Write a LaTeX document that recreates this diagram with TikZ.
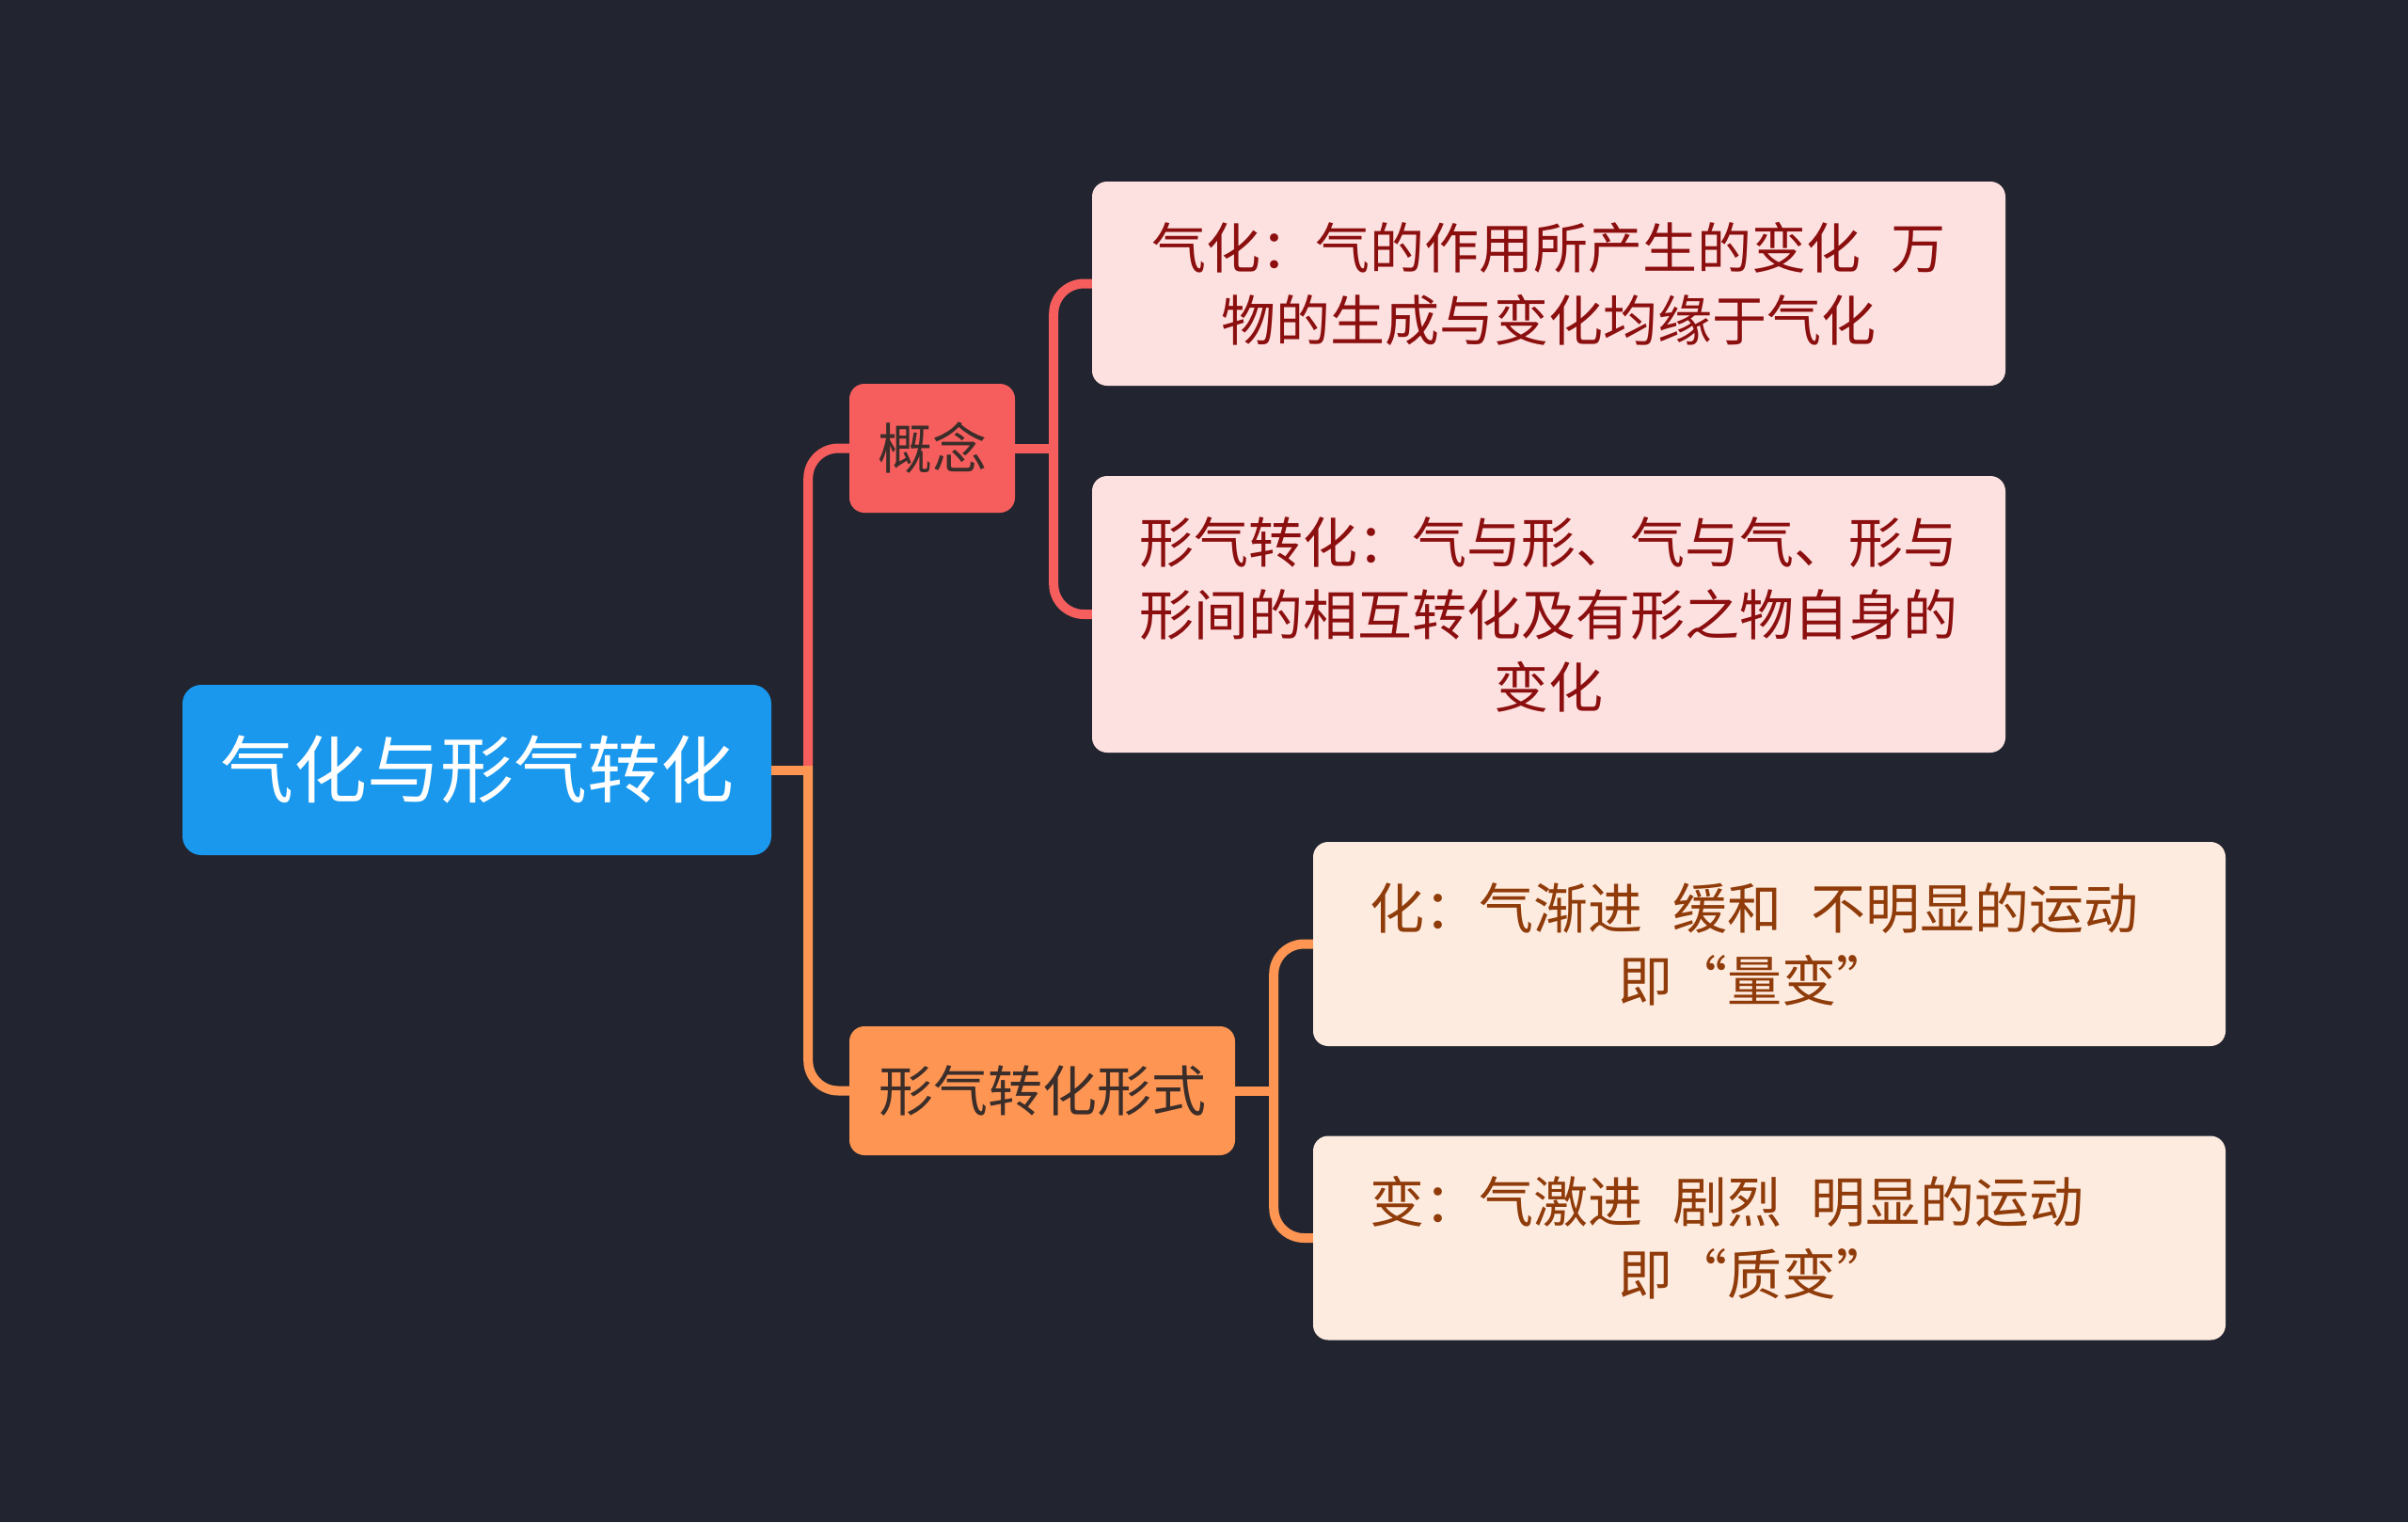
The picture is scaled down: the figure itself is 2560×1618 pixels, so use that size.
\documentclass[tikz,border=0pt]{standalone}
\usepackage{fontspec}
\setmainfont{Noto Sans CJK SC}
\definecolor{bgc}{HTML}{22252F}
\definecolor{rootc}{HTML}{1A98EE}
\definecolor{concc}{HTML}{F65E5E}
\definecolor{formc}{HTML}{FE9552}
\definecolor{pinkc}{HTML}{FDE0E0}
\definecolor{peachc}{HTML}{FEEBDF}
\definecolor{redtxt}{HTML}{8C0F0F}
\definecolor{browntxt}{HTML}{8F3B0A}
\definecolor{darktxt}{HTML}{3B2E2A}
\begin{document}
\begin{tikzpicture}[x=1pt,y=-1pt,
  box/.style={rectangle, rounded corners=16pt, inner sep=0pt, align=center},
  rootbox/.style={box, fill=rootc, rounded corners=20pt, minimum width=626pt, minimum height=181pt, text=white, font=\fontsize{78}{90}\selectfont},
  midbox/.style={box, minimum height=137pt, text=darktxt, font=\fontsize{58}{77}\selectfont},
  leafred/.style={box, fill=pinkc, minimum width=971pt, text=redtxt, font=\fontsize{58}{77}\selectfont},
  leafor/.style={box, fill=peachc, minimum width=970pt, minimum height=217pt},
  ortext/.style={align=center, inner sep=0pt, text=browntxt, font=\fontsize{58}{77}\selectfont},
  redline/.style={draw=concc, line width=10pt, rounded corners=32pt},
  orline/.style={draw=formc, line width=10pt, rounded corners=32pt}]
\fill[bgc] (0,0) rectangle (2560,1618);
\useasboundingbox (0,0) rectangle (2560,1618);

\node[rootbox] (root) at (507,818.5) {气化与形气转化};
\node[midbox, fill=concc, minimum width=176pt] (conc) at (991,476.5) {概念};
\node[midbox, fill=formc, minimum width=410pt] (form) at (1108,1159.5) {形气转化形式};

\node[leafred, minimum height=217pt] (l1) at (1646.5,301.5) {气化：气的作用所产生的变化\hspace{0.55em}万\\物的生成与变化均缘于气化};
\node[leafred, minimum height=294pt] (l2) at (1646.5,653) {形气转化：气与形、气与气、形与\\形间的相互转化及有形之物自身的\\变化};
\node[leafor] (l3) at (1881,1003.5) {};
\node[leafor] (l4) at (1881,1316) {};
\node[ortext] (t3) at ([xshift=-16pt]l3.center) {化：气渐进\hspace{0.55em}缓和\hspace{0.55em}不明显的运动\\即“量变”};
\node[ortext] (t4) at ([xshift=-16pt]l4.center) {变：气激进\hspace{0.55em}剧烈\hspace{0.55em}明显的运动\hspace*{1em}\\即“质变”};

% junction points
\coordinate (j0) at ([xshift=39pt]root.east);
\coordinate (j1) at ([xshift=41pt]conc.east);
\coordinate (j2) at ([xshift=41pt]form.east);

% connectors
\draw[redline] (j0) |- (conc.west);
\draw[orline] (j0) |- (form.west);
\draw[orline, rounded corners=0pt] (root.east) -- ([xshift=5pt]j0);
\draw[redline] (j1) |- (l1.west);
\draw[redline] (j1) |- (l2.west);
\draw[redline, rounded corners=0pt] (conc.east) -- ([xshift=5pt]j1);
\draw[orline] (j2) |- (l3.west);
\draw[orline] (j2) |- (l4.west);
\draw[orline, rounded corners=0pt] (form.east) -- ([xshift=5pt]j2);
\end{tikzpicture}
\end{document}
